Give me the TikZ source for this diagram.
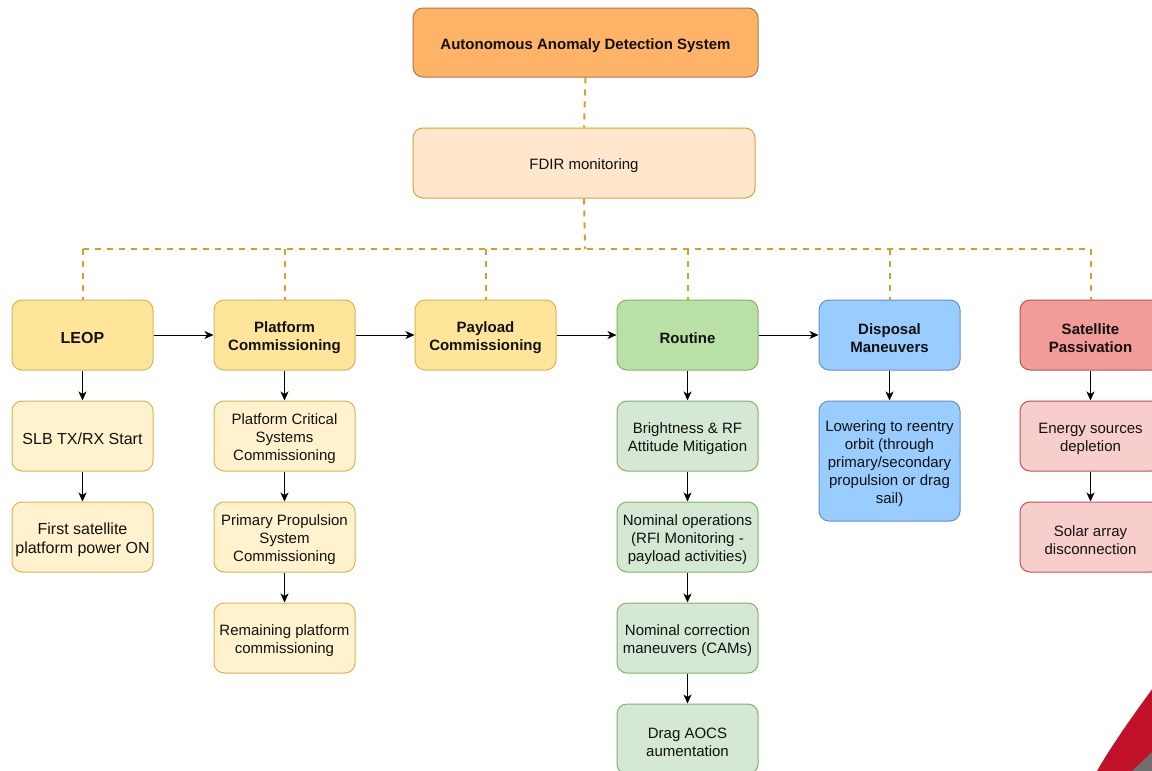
\documentclass[tikz,border=0pt]{standalone}
\usepackage{fontspec}
\setmainfont{Liberation Sans}
\usetikzlibrary{arrows.meta}
\newcommand{\mystrut}{\rule{0pt}{17pt}}
\definecolor{topfill}{HTML}{FFB366}
\definecolor{topdraw}{HTML}{B8714A}
\definecolor{fdirfill}{HTML}{FFE6CC}
\definecolor{fdirdraw}{HTML}{D7A43A}
\definecolor{yelfill}{HTML}{FFE599}
\definecolor{yeldraw}{HTML}{D6B656}
\definecolor{lyelfill}{HTML}{FFF2CC}
\definecolor{grnfill}{HTML}{B9E0A5}
\definecolor{grndraw}{HTML}{82B366}
\definecolor{lgrnfill}{HTML}{D5E8D4}
\definecolor{blufill}{HTML}{99CCFF}
\definecolor{bludraw}{HTML}{6C8EBF}
\definecolor{redfill}{HTML}{F19C99}
\definecolor{reddraw}{HTML}{B85450}
\definecolor{lredfill}{HTML}{F8CECC}
\definecolor{dashcol}{HTML}{D4A02A}
\definecolor{cornerred}{HTML}{C0102A}
\definecolor{cornergray}{HTML}{6E6E6E}
\definecolor{txt}{HTML}{111111}
\tikzset{
  box/.style={rounded corners=10pt, minimum width=141pt, minimum height=70pt,
    align=center, line width=1pt, text=txt, inner sep=2pt,
    font=\fontsize{15}{18}\selectfont},
  bold/.style={font=\fontsize{15}{18}\selectfont\bfseries},
  big/.style={font=\fontsize{16}{19}\selectfont},
  topbox/.style={box, fill=topfill, draw=topdraw, minimum width=345pt, minimum height=69pt, bold},
  fdirbox/.style={box, fill=fdirfill, draw=fdirdraw, minimum width=342pt},
  yelbox/.style={box, fill=yelfill, draw=yeldraw, bold},
  lyelbox/.style={box, fill=lyelfill, draw=yeldraw},
  grnbox/.style={box, fill=grnfill, draw=grndraw, bold},
  lgrnbox/.style={box, fill=lgrnfill, draw=grndraw},
  blubox/.style={box, fill=blufill, draw=bludraw, bold},
  lblubox/.style={box, fill=blufill, draw=bludraw},
  redbox/.style={box, fill=redfill, draw=reddraw, bold},
  lredbox/.style={box, fill=lredfill, draw=reddraw},
  dline/.style={draw=dashcol, line width=2pt, dash pattern=on 6pt off 6pt},
  arr/.style={draw=black, line width=1pt, -{Stealth[length=9pt,width=8pt,inset=2.5pt]}}
}
\begin{document}
\begin{tikzpicture}[x=1pt,y=-1pt]
\useasboundingbox (0,0) rectangle (1152,771);
\clip (0,0) rectangle (1152,771);
\fill[white] (0,0) rectangle (1152,771);
% corner decoration
\fill[cornerred] (1097,771) .. controls (1112,745) and (1132,716) .. (1170,665) -- (1170,771) -- cycle;
\fill[cornergray] (1132,771) -- (1170,735) -- (1170,771) -- cycle;

\node[topbox] (top) at (585.5,42.5) {\mystrut Autonomous Anomaly Detection System};
\node[fdirbox] (fdir) at (584,163) {\mystrut FDIR monitoring};

\node[yelbox, font=\fontsize{16}{19}\selectfont\bfseries] (leop) at (82.5,335) {\mystrut LEOP};
\node[yelbox] (plat) at (284.5,335) {\mystrut Platform\\Commissioning};
\node[yelbox] (pay) at (485.5,335) {\mystrut Payload\\Commissioning};
\node[grnbox] (rout) at (687.5,335) {\mystrut Routine};
\node[blubox] (disp) at (889.5,335) {\mystrut Disposal\\Maneuvers};
\node[redbox] (pass) at (1090.5,335) {\mystrut Satellite\\Passivation};

\node[lyelbox, big] (l1) at (82.5,436) {\mystrut SLB TX/RX Start};
\node[lyelbox, big] (l2) at (82.5,537) {\mystrut First satellite\\platform power ON};

\node[lyelbox] (p1) at (284.5,436) {\mystrut Platform Critical\\Systems\\Commissioning};
\node[lyelbox] (p2) at (284.5,537) {\mystrut Primary Propulsion\\System\\Commissioning};
\node[lyelbox] (p3) at (284.5,638) {\mystrut Remaining platform\\commissioning};

\node[lgrnbox] (r1) at (687.5,436) {\mystrut Brightness \& RF\\Attitude Mitigation};
\node[lgrnbox] (r2) at (687.5,537) {\mystrut Nominal operations\\(RFI Monitoring -\\payload activities)};
\node[lgrnbox] (r3) at (687.5,638) {\mystrut Nominal correction\\maneuvers (CAMs)};
\node[lgrnbox] (r4) at (687.5,739) {\mystrut Drag AOCS\\aumentation};

\node[lblubox, minimum height=120pt] (d1) at (889.5,461) {\mystrut Lowering to reentry\\orbit (through\\primary/secondary\\propulsion or drag\\sail)};

\node[lredbox] (s1) at (1090.5,436) {\mystrut Energy sources\\depletion};
\node[lredbox] (s2) at (1090.5,537) {\mystrut Solar array\\disconnection};

% dashed hierarchy
\draw[dline] (top.south) -- (fdir.north);
\coordinate (j) at (585,249);
\draw[dline] (fdir.south) -- (j);
\draw[dline] (leop.north |- j) -- (pass.north |- j);
\foreach \n in {leop,plat,pay,rout,disp,pass}{
  \draw[dline] (\n.north |- j) -- (\n.north);
}

% phase arrows
\draw[arr] (leop) -- (plat);
\draw[arr] (plat) -- (pay);
\draw[arr] (pay) -- (rout);
\draw[arr] (rout) -- (disp);

% vertical arrows
\draw[arr] (leop) -- (l1);
\draw[arr] (l1) -- (l2);
\draw[arr] (plat) -- (p1);
\draw[arr] (p1) -- (p2);
\draw[arr] (p2) -- (p3);
\draw[arr] (rout) -- (r1);
\draw[arr] (r1) -- (r2);
\draw[arr] (r2) -- (r3);
\draw[arr] (r3) -- (r4);
\draw[arr] (disp) -- (d1);
\draw[arr] (pass) -- (s1);
\draw[arr] (s1) -- (s2);
\end{tikzpicture}
\end{document}
